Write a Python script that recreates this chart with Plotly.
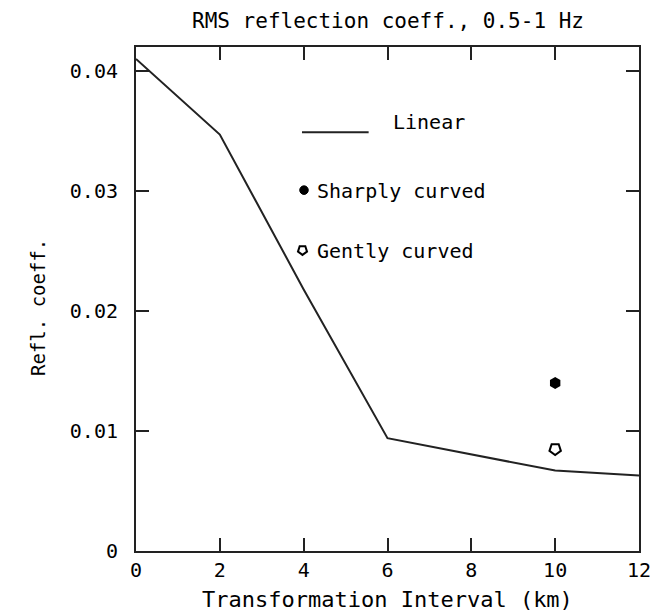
import math
import plotly.graph_objects as go

# ---- data ----
interval_km = [0, 2, 4, 6, 10, 12]
linear_refl = [0.0410, 0.0347, 0.0218, 0.0094, 0.0067, 0.0063]

sharp_x = [10]
sharp_y = [0.0140]
gentle_x = [10]
gentle_y = [0.0085]

x_ticks = [0, 2, 4, 6, 8, 10, 12]
y_ticks = [0, 0.01, 0.02, 0.03, 0.04]
y_tick_text = ["0", "0.01", "0.02", "0.03", "0.04"]

title_text = "RMS reflection coeff., 0.5-1 Hz"
x_title = "Transformation Interval (km)"
y_title = "Refl. coeff."

FONT = "DejaVu Sans Mono"
INK = "#222222"

fig = go.Figure()
fig.add_trace(go.Scatter(x=interval_km, y=linear_refl, mode="lines",
                         line=dict(color=INK, width=2), showlegend=False))
fig.add_trace(go.Scatter(x=sharp_x, y=sharp_y, mode="markers",
                         marker=dict(symbol="hexagon", size=12, color="black"),
                         showlegend=False))
fig.add_trace(go.Scatter(x=gentle_x, y=gentle_y, mode="markers",
                         marker=dict(symbol="pentagon-open", size=12, angle=180,
                                     color="black", line=dict(width=2)),
                         showlegend=False))

axis_common = dict(showline=True, linewidth=2, linecolor=INK, mirror="ticks",
                   ticks="inside", ticklen=13, tickwidth=2, tickcolor=INK,
                   showgrid=False, zeroline=False,
                   tickfont=dict(family=FONT, size=20, color="black"))

fig.update_xaxes(range=[0, 12], tickvals=x_ticks, ticklabelstandoff=0, **axis_common)
fig.update_yaxes(range=[0, 0.042], tickvals=y_ticks, ticktext=y_tick_text,
                 ticklabelstandoff=12, **axis_common)

# legend drawn as decoration (paper coordinates)
shapes = [
    dict(type="line", xref="paper", yref="paper", x0=0.330, x1=0.4625, y0=0.831, y1=0.831,
         line=dict(color=INK, width=2)),
    dict(type="circle", xref="paper", yref="paper", x0=0.334 - 0.0085, x1=0.334 + 0.0085,
         y0=0.716 - 0.0085, y1=0.716 + 0.0085, fillcolor="black", line=dict(color="black", width=1)),
]
cx, cy, r = 0.331, 0.597, 0.0095
pts = []
for k in range(5):
    a = math.radians(-90 + 72 * k)
    pts.append((cx + r * math.cos(a), cy + r * math.sin(a) * 506 / 504))
path = "M " + " L ".join(f"{px:.4f},{py:.4f}" for px, py in pts) + " Z"
shapes.append(dict(type="path", xref="paper", yref="paper", path=path,
                   line=dict(color="black", width=2)))

def note(text, x, y, size=20, xanchor="left", angle=0):
    return dict(text=text, x=x, y=y, xref="paper", yref="paper", textangle=angle,
                xanchor=xanchor, yanchor="middle", showarrow=False,
                font=dict(family=FONT, size=size, color="black"))

annotations = [
    note("Linear", 0.506, 0.851),
    note("Sharply curved", 0.355, 0.714),
    note("Gently curved", 0.355, 0.595),
    note(x_title, 0.5, -0.097, size=22, xanchor="center"),
    note(y_title, -0.195, 0.484, size=19, xanchor="center", angle=-90),
]

# page body adds an 8px offset; compensate so the plot area sits where the reference has it
fig.update_layout(
    width=655, height=607,
    margin=dict(l=128, r=21, t=39, b=64),
    paper_bgcolor="white", plot_bgcolor="white",
    title=dict(text=title_text, x=380 / 655, xanchor="center", y=1 - 13 / 607, yanchor="middle",
               xref="container", yref="container",
               font=dict(family=FONT, size=21, color="black")),
    shapes=shapes, annotations=annotations, showlegend=False,
)

fig.write_html("out.html")
